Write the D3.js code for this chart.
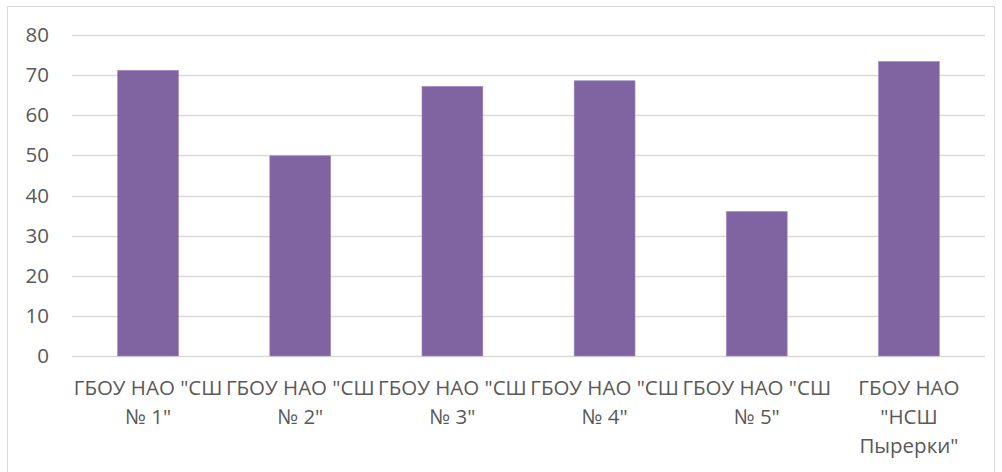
<!DOCTYPE html>
<html><head><meta charset="utf-8">
<script src="https://cdn.jsdelivr.net/npm/d3@7"></script>
<style>
html,body{margin:0;padding:0;background:#fff;}
text{font-family:"Open Sans",sans-serif;fill:#595959;}
</style></head>
<body><svg id="chart" width="1002" height="472"></svg>
<script>
const categories = ['ГБОУ НАО "СШ\n№ 1"','ГБОУ НАО "СШ\n№ 2"','ГБОУ НАО "СШ\n№ 3"','ГБОУ НАО "СШ\n№ 4"','ГБОУ НАО "СШ\n№ 5"','ГБОУ НАО\n"НСШ\nПырерки"'];
const values = [71.2, 49.9, 67.2, 68.6, 36.0, 73.4];
const yTicks = [0,10,20,30,40,50,60,70,80];

const W = 1002, H = 472;
const margin = {left:72, right:17, top:35, bottom:116};
const FS = 20.5;
const svg = d3.select("#chart");

svg.append("rect").attr("x",7.5).attr("y",6.5).attr("width",987).attr("height",470)
  .attr("fill","#fff").attr("stroke","#d9d9d9").attr("stroke-width",1);

const x = d3.scaleBand().domain(categories).range([margin.left, W-margin.right]).paddingInner(0.6).paddingOuter(0.3);
const y = d3.scaleLinear().domain([0,80]).range([H-margin.bottom, margin.top]);

// gridlines
svg.append("g").selectAll("line").data(yTicks).join("line")
  .attr("x1",margin.left).attr("x2",W-margin.right)
  .attr("y1",d=>Math.round(y(d))+0.5).attr("y2",d=>Math.round(y(d))+0.5)
  .attr("stroke","#d9d9d9").attr("stroke-width",1.3);

// y labels
const yAxis = svg.append("g").attr("transform",`translate(${margin.left},0)`)
  .call(d3.axisLeft(y).tickValues(yTicks).tickSize(0).tickPadding(23));
yAxis.select(".domain").remove();
yAxis.selectAll("text").attr("font-size",FS).style("font-family","'Open Sans', sans-serif").attr("fill","#595959");

// bars
svg.append("g").selectAll("rect").data(values).join("rect")
  .attr("x",(d,i)=>x(categories[i])).attr("width",x.bandwidth())
  .attr("y",d=>y(d)).attr("height",d=>y(0)-y(d))
  .attr("fill","#8064a2").attr("stroke","#a08bc0").attr("stroke-width",0.6);

// x labels
const xl = svg.append("g");
categories.forEach(c=>{
  const cx = x(c)+x.bandwidth()/2;
  const t = xl.append("text").attr("text-anchor","middle").attr("font-size",FS);
  c.split("\n").forEach((ln,k)=>{
    t.append("tspan").attr("x",cx).attr("y",395+k*29).text(ln);
  });
});
</script></body></html>
